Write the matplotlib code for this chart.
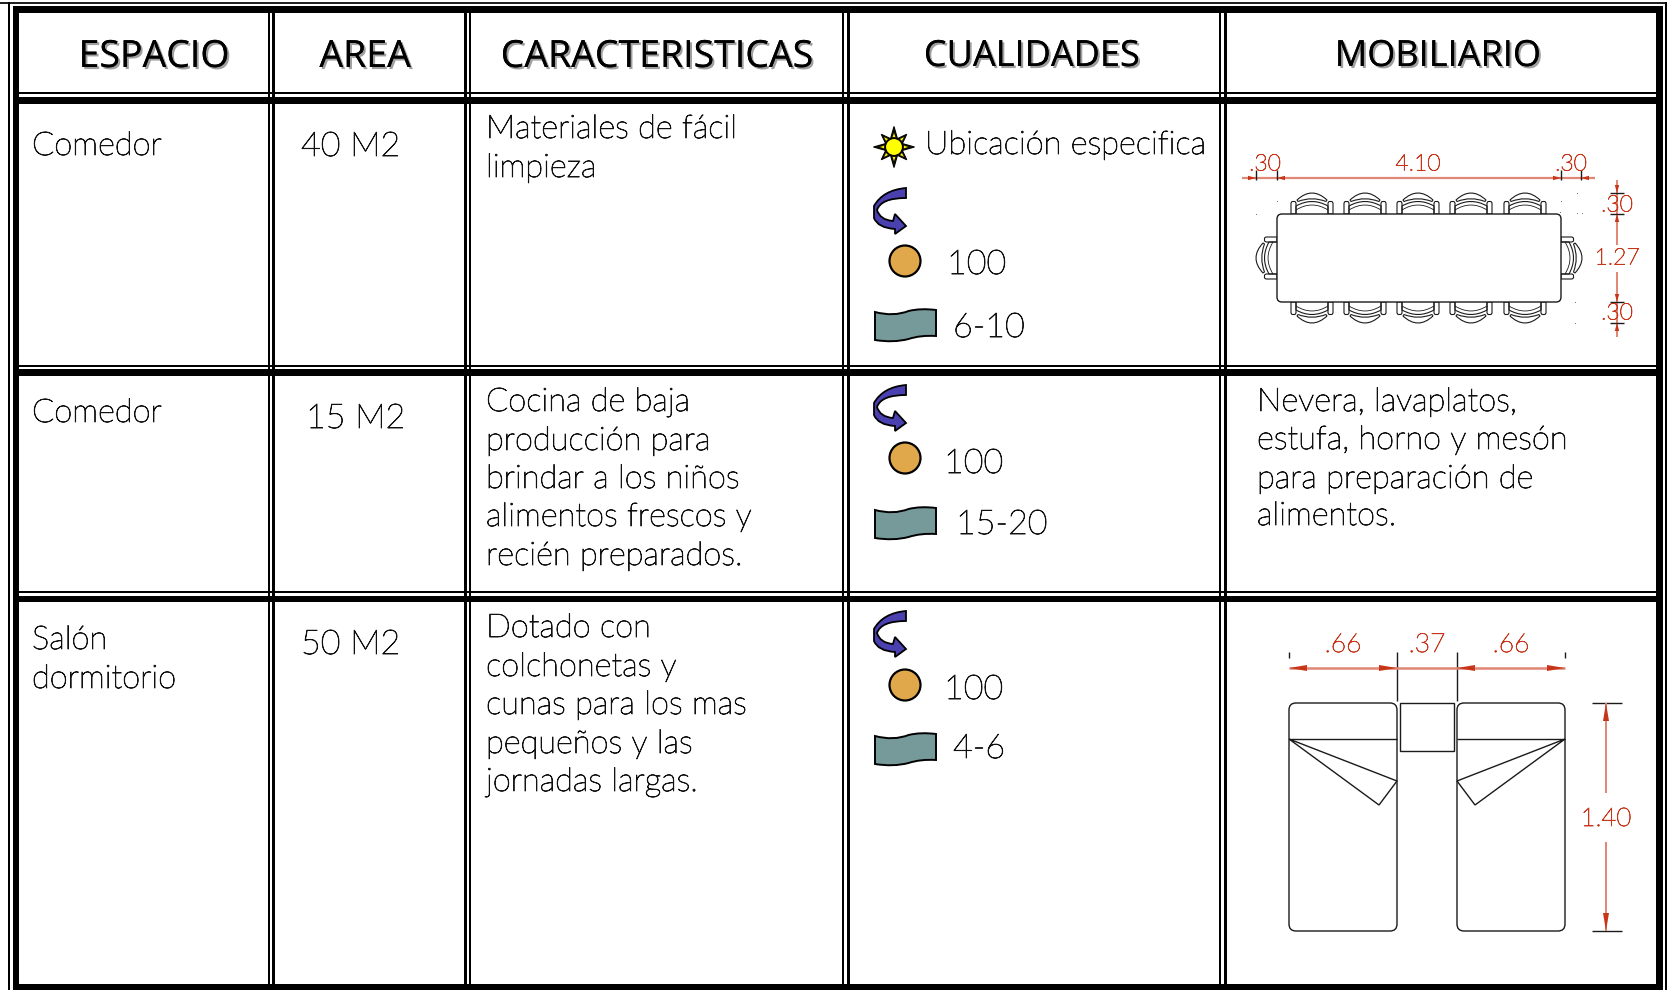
import matplotlib
matplotlib.use('Agg')
import matplotlib.pyplot as plt
from matplotlib.patches import Circle, FancyBboxPatch, PathPatch, Polygon, Rectangle
from matplotlib.path import Path
import matplotlib.patheffects as pe
import numpy as np

W, H = 1667, 990
BODY_FONT = 'Lato'
RED = '#c8361a'
RED_LIGHT = '#e08674'

headers = ['ESPACIO', 'AREA', 'CARACTERISTICAS', 'CUALIDADES', 'MOBILIARIO']
header_x = [154, 365, 657, 1032, 1438]
header_size = [27, 27, 27, 26, 26]

espacios = [['Comedor'], ['Comedor'], ['Salón', 'dormitorio']]
espacio_y = [[155], [422], [649, 688]]
areas = ['40 M2', '15 M2', '50 M2']
area_y = [156, 428, 654]
caracteristicas = [
    ['Materiales de fácil', 'limpieza'],
    ['Cocina de baja', 'producción para', 'brindar a los niños', 'alimentos frescos y', 'recién preparados.'],
    ['Dotado con', 'colchonetas y', 'cunas para los mas', 'pequeños y las', 'jornadas largas.'],
]
caract_y = [
    [138, 177],
    [411, 450, 488, 526, 565],
    [637, 676, 714, 753, 791],
]
capacidad = ['100', '100', '100']
capacidad_x = [947, 944, 944]
capacidad_y = [274, 473, 699]
usuarios = ['6-10', '15-20', '4-6']
usuarios_x = [953, 956, 953]
usuarios_y = [337, 534, 758]
ubicacion = 'Ubicación especifica'
mobiliario_cocina = ['Nevera, lavaplatos,', 'estufa, horno y mesón', 'para preparación de', 'alimentos.']
mobiliario_y = [411, 449, 488, 525]

# grid: (thin line, thick line) in image pixels
h_rules = [((92, 94), (97, 104)), ((365, 367), (369, 376)), ((591, 593), (596, 602))]
v_rules = [((268, 270), (272, 275)), ((464, 467), (469, 471)), ((842, 844), (847, 850)), ((1219, 1221), (1224, 1227))]

chair_x = [1312, 1365, 1418, 1471, 1525]
specks = [(1277, 201), (1256, 214), (1561, 201), (1577, 193), (1560, 212), (1577, 213), (1582, 213), (1575, 302), (1575, 323)]

fig = plt.figure(figsize=(W / 100, H / 100), dpi=100)
ax = fig.add_axes([0, 0, 1, 1])
ax.set_xlim(0, W)
ax.set_ylim(H, 0)
ax.axis('off')


def block(x0, x1, y0, y1, color='black'):
    ax.add_patch(Rectangle((x0, y0), x1 - x0, y1 - y0, fc=color, ec='none', zorder=2))


def body(x, y, s, size=23.5, color='#111111'):
    ax.text(x, y, s, fontsize=size, family=BODY_FONT, fontweight='light', color=color,
            va='baseline', ha='left', zorder=5,
            path_effects=[pe.withStroke(linewidth=0.6, foreground=color)])


def dim_text(x, y, s, size=16.5):
    ax.text(x, y, s, fontsize=size, family=BODY_FONT, fontweight='light', color=RED,
            va='center', ha='center', zorder=6,
            path_effects=[pe.withStroke(linewidth=0.5, foreground=RED)])


def line(xs, ys, color='#1a1a1a', lw=1.0):
    ax.plot(xs, ys, color=color, lw=lw, solid_capstyle='butt', zorder=4)


def arrow_head(x, y, dx, dy, length, half):
    # tip at x, y, pointing along dx, dy
    px, py = -dy, dx
    ax.add_patch(Polygon([(x, y), (x - dx * length + px * half, y - dy * length + py * half),
                          (x - dx * length - px * half, y - dy * length - py * half)],
                         closed=True, fc=RED, ec='none', zorder=5))


def sun(cx, cy):
    angles = np.linspace(0, 2 * np.pi, 16, endpoint=False) - np.pi / 2
    radii = np.where(np.arange(16) % 2 == 1, 9, np.where(np.arange(16) % 4 == 0, 20.5, 18))
    star = np.column_stack([cx + radii * np.cos(angles), cy + radii * np.sin(angles)])
    ax.add_patch(Polygon(star, closed=True, fc='#111100', ec='black', lw=0.8, zorder=4))
    # yellow wedge inside each ray
    for a in angles[::2]:
        b = 0.14
        ax.add_patch(Polygon([(cx + 14 * np.cos(a), cy + 14 * np.sin(a)),
                              (cx + 10 * np.cos(a - b), cy + 10 * np.sin(a - b)),
                              (cx + 10 * np.cos(a + b), cy + 10 * np.sin(a + b))],
                             closed=True, fc='#ffee00', ec='none', zorder=4.5))
    ax.add_patch(Circle((cx, cy), 8.5, fc='#ffff00', ec='black', lw=0.8, zorder=5))


def turn_arrow(x, y):
    # x, y = top right corner of the ribbon
    pts = [(0, 0), (-23, 2), (-32, 18), (-32, 30), (-28, 40), (-11, 41), (-11, 46), (0, 38), (-11, 26),
           (-13, 33), (-26, 32), (-29, 22), (-25, 10), (0, 10), (0, 0)]
    codes = [Path.MOVETO, Path.CURVE3, Path.CURVE3, Path.LINETO, Path.CURVE3, Path.CURVE3, Path.LINETO, Path.LINETO,
             Path.LINETO, Path.LINETO, Path.CURVE3, Path.CURVE3, Path.CURVE3, Path.CURVE3, Path.CLOSEPOLY]
    verts = [(x + a, y + b) for a, b in pts]
    ax.add_patch(PathPatch(Path(verts, codes), fc='#4a40b0', ec='black', lw=1.3, zorder=4))


def banner(x, y):
    w, h = 61, 31
    verts = [(x, y + 3), (x + w * 0.3, y + 8), (x + w * 0.55, y + 2), (x + w * 0.75, y - 1), (x + w, y + 1),
             (x + w, y + h - 4), (x + w * 0.75, y + h - 5), (x + w * 0.55, y + h - 1), (x + w * 0.3, y + h + 3), (x, y + h),
             (x, y + 3)]
    codes = [Path.MOVETO, Path.CURVE3, Path.CURVE3, Path.CURVE3, Path.CURVE3,
             Path.LINETO, Path.CURVE3, Path.CURVE3, Path.CURVE3, Path.CURVE3,
             Path.CLOSEPOLY]
    ax.add_patch(PathPatch(Path(verts, codes), fc='#76999a', ec='black', lw=1.4, zorder=4))


def chair(cx, cy, ux, uy, vx, vy):
    # u runs along the table edge, v points away from the table
    def t(pts):
        return [(cx + a * ux + b * vx, cy + a * uy + b * vy) for a, b in pts]

    kw = dict(fc='white', ec='#1a1a1a', lw=0.8, zorder=4)
    for a0, a1 in ((-21, -16), (16, 21)):
        ax.add_patch(Polygon(t([(a0, 0), (a0, 11), (a0 + 1, 12.5), (a1 - 1, 12.5), (a1, 11), (a1, 0)]), closed=True, **kw))
    seat = Path(t([(-16, 0), (-16, 8), (0, 17), (16, 8), (16, 0)]),
                [Path.MOVETO, Path.LINETO, Path.CURVE3, Path.CURVE3, Path.LINETO])
    ax.add_patch(PathPatch(seat, fc='none', ec='#1a1a1a', lw=0.8, zorder=4))
    inner = Path(t([(-16, 4), (0, 14), (16, 4)]), [Path.MOVETO, Path.CURVE3, Path.CURVE3])
    ax.add_patch(PathPatch(inner, fc='none', ec='#1a1a1a', lw=0.6, zorder=4))
    back = Path(t([(-15, 14), (0, 28), (15, 14), (14, 12.5), (0, 18), (-14, 12.5), (-15, 14)]),
                [Path.MOVETO, Path.CURVE3, Path.CURVE3, Path.LINETO, Path.CURVE3, Path.CURVE3, Path.CLOSEPOLY])
    ax.add_patch(PathPatch(back, fc='white', ec='#1a1a1a', lw=0.8, zorder=4))


def bed(x0, x1, mirror):
    ax.add_patch(FancyBboxPatch((x0 + 6, 703 + 6), x1 - x0 - 12, 228 - 12, boxstyle='round,pad=6,rounding_size=7',
                                fc='none', ec='#1a1a1a', lw=1.0, zorder=4))
    line([x0, x1], [739, 739])
    if mirror:
        pts = [(x1, 739), (x0, 781), (x0 + 18, 805)]
    else:
        pts = [(x0, 739), (x1, 781), (x1 - 18, 805)]
    ax.add_patch(Polygon(pts, closed=True, fc='none', ec='#1a1a1a', lw=1.0, zorder=4))


# outer frame
block(0, W, 2, 3.5, '#222222')
block(8, 10, 2, H)
block(1665, 1667, 2, H)
block(13, 19, 6, H)
block(1656, 1663, 6, H)
block(13, 1663, 6, 12.5)
block(13, 1663, 984, H)

for (a0, a1), (b0, b1) in h_rules:
    block(19, 1656, a0, a1)
    block(19, 1656, b0, b1)
for (a0, a1), (b0, b1) in v_rules:
    block(a0, a1, 12, 984)
    block(b0, b1, 12, 984)

# header
for x, s, size in zip(header_x, headers, header_size):
    ax.text(x, 57, s, fontsize=size, family='Open Sans', color='black', ha='center', va='center', zorder=5,
            path_effects=[pe.withSimplePatchShadow(offset=(1.5, -1.5), shadow_rgbFace='#777777', alpha=0.7), pe.Normal()])

# text columns
for lines, ys in zip(espacios, espacio_y):
    for s, y in zip(lines, ys):
        body(32, y, s)
for s, y, x in zip(areas, area_y, [301, 306, 301]):
    body(x, y, s, size=24.5)
for lines, ys in zip(caracteristicas, caract_y):
    for s, y in zip(lines, ys):
        body(486, y, s)
for s, y in zip(mobiliario_cocina, mobiliario_y):
    body(1257, y, s)

# cualidades icons and values
sun(894, 147)
body(925, 154, ubicacion)
for top, cy, by in zip([188, 385, 611], [261, 458, 685], [309, 507, 733]):
    turn_arrow(906, top)
    ax.add_patch(Circle((905, cy), 15.5, fc='#e0a84a', ec='black', lw=1.6, zorder=4))
    banner(875, by)
for s, x, y in zip(capacidad, capacidad_x, capacidad_y):
    body(x, y, s, size=24.5)
for s, x, y in zip(usuarios, usuarios_x, usuarios_y):
    body(x, y, s, size=24.5)

# dining table drawing
ax.add_patch(FancyBboxPatch((1282, 219), 274, 78, boxstyle='round,pad=5,rounding_size=5',
                            fc='white', ec='#1a1a1a', lw=1.0, zorder=4.5))
for cx in chair_x:
    chair(cx, 214, 1, 0, 0, -1)
    chair(cx, 302, 1, 0, 0, 1)
chair(1277, 258, 0, 1, -1, 0)
chair(1561, 258, 0, 1, 1, 0)
for x, y in specks:
    ax.add_patch(Rectangle((x, y), 1, 1, fc='#777777', ec='none', zorder=3))

line([1242, 1595], [178, 178], RED_LIGHT, 1.6)
for x in (1256, 1277, 1561, 1581):
    line([x, x], [170, 180])
for x, d in ((1256, 1), (1277, -1), (1561, 1), (1581, -1)):
    arrow_head(x, 178, d, 0, 8, 2.2)
dim_text(1265, 164, '.30')
dim_text(1418, 164, '4.10')
dim_text(1571, 164, '.30')

line([1617, 1617], [180, 245], RED_LIGHT, 1.4)
line([1617, 1617], [272, 337], RED_LIGHT, 1.4)
for y in (193, 214, 302, 323):
    line([1610, 1624], [y, y])
for y, d in ((193, 1), (214, -1), (302, 1), (323, -1)):
    arrow_head(1617, y, 0, d, 8, 2.2)
dim_text(1617, 205, '.30')
dim_text(1617, 258, '1.27')
dim_text(1617, 313, '.30')

# beds drawing
bed(1289, 1397, False)
bed(1457, 1565, True)
ax.add_patch(Rectangle((1400, 703), 54, 48, fc='none', ec='#1a1a1a', lw=1.0, zorder=4))
line([1289, 1289], [652, 658])
line([1565, 1565], [652, 658])
line([1397, 1397], [652, 701])
line([1457, 1457], [652, 701])
line([1289, 1565], [668, 668], RED_LIGHT, 1.8)
for x, d in ((1289, -1), (1397, 1), (1457, -1), (1565, 1)):
    arrow_head(x, 668, d, 0, 18, 3)
dim_text(1343, 645, '.66', 19)
dim_text(1427, 645, '.37', 19)
dim_text(1511, 645, '.66', 19)
line([1592, 1622], [703, 703])
line([1592, 1622], [931, 931])
line([1606, 1606], [703, 793], RED_LIGHT, 1.4)
line([1606, 1606], [842, 931], RED_LIGHT, 1.4)
arrow_head(1606, 703, 0, -1, 18, 3)
arrow_head(1606, 931, 0, 1, 18, 3)
dim_text(1606, 819, '1.40', 18.5)

fig.savefig('out.png', dpi=100, facecolor='white')
